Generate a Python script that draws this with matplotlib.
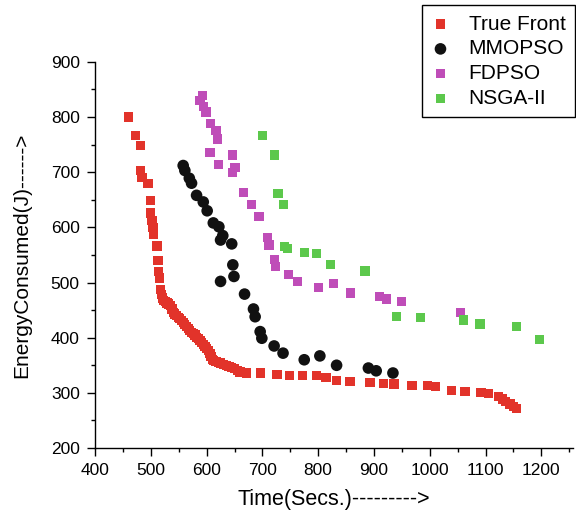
import matplotlib
matplotlib.use("Agg")
import matplotlib.pyplot as plt
from matplotlib.ticker import MultipleLocator

plt.rcParams['font.family'] = ['Liberation Sans', 'DejaVu Sans']

true_x = [460, 472, 481, 482, 484, 495, 499, 500, 502, 504, 505, 511, 513, 514, 516, 518, 519,
          521, 523, 526, 529, 532, 535, 538, 540, 543, 546, 549, 552, 555, 558, 561, 564, 567,
          570, 573, 576, 579, 582, 585, 588, 591, 594, 597, 600, 603, 606, 608, 610, 613, 617,
          621, 625, 630, 635, 640, 645, 650, 655, 660, 666, 672, 696, 726, 748, 772, 797, 814,
          833, 857, 893, 917, 936, 968, 996, 1011, 1039, 1063, 1092, 1106, 1123, 1130, 1136,
          1144, 1150, 1156]
true_y = [800, 767, 748, 703, 690, 680, 648, 626, 613, 599, 587, 566, 540, 520, 508, 487, 478,
          472, 468, 466, 463, 461, 458, 452, 446, 443, 440, 437, 435, 431, 428, 424, 420, 416,
          413, 410, 407, 405, 401, 398, 395, 391, 387, 384, 381, 377, 372, 366, 361, 358, 357,
          355, 354, 352, 350, 348, 346, 344, 341, 338, 337, 336, 336, 334, 332, 331, 331, 328,
          322, 320, 319, 317, 316, 314, 313, 311, 305, 302, 301, 299, 294, 289, 285,
          280, 276, 272]

mmopso_x = [558, 561, 569, 573, 582, 594, 601, 612, 622, 629, 625, 645, 647, 649, 625, 668,
            684, 687, 696, 699, 721, 737, 775, 803, 833, 890, 904, 934]
mmopso_y = [712, 703, 689, 680, 658, 646, 630, 608, 601, 585, 577, 570, 532, 511, 502, 479,
            452, 438, 411, 399, 385, 372, 360, 367, 350, 345, 340, 336]

fdpso_x = [588, 593, 594, 599, 607, 617, 620, 606, 621, 647, 651, 646, 666, 681, 694, 709,
           712, 721, 723, 747, 763, 800, 828, 858, 910, 922, 950, 1055]
fdpso_y = [830, 839, 819, 809, 788, 776, 760, 736, 714, 731, 709, 700, 663, 641, 620, 582,
           568, 541, 529, 514, 502, 491, 498, 481, 474, 470, 465, 446]

nsga_x = [700, 722, 728, 738, 739, 745, 776, 797, 822, 884, 941, 984, 1060, 1090, 1155, 1197]
nsga_y = [766, 731, 661, 641, 565, 561, 554, 553, 532, 521, 439, 436, 432, 425, 420, 397]

fig = plt.figure(figsize=(5.76, 5.15), dpi=100)
ax = fig.add_axes([0.165, 0.130, 0.830, 0.750])

ax.scatter(true_x, true_y, marker='s', s=44, color='#e2332a', edgecolors='none', label='True Front', zorder=3)
ax.scatter(mmopso_x, mmopso_y, marker='o', s=70, color='#111111', edgecolors='none', label='MMOPSO', zorder=3)
ax.scatter(fdpso_x, fdpso_y, marker='s', s=44, color='#bf4db8', edgecolors='none', label='FDPSO', zorder=3)
ax.scatter(nsga_x, nsga_y, marker='s', s=44, color='#5cc84c', edgecolors='none', label='NSGA-II', zorder=3)

ax.set_xlim(400, 1257)
ax.set_ylim(200, 900)
ax.xaxis.set_major_locator(MultipleLocator(100))
ax.xaxis.set_minor_locator(MultipleLocator(50))
ax.yaxis.set_major_locator(MultipleLocator(100))
ax.yaxis.set_minor_locator(MultipleLocator(50))
ax.tick_params(which='major', direction='out', length=6, width=1, labelsize=12.5, pad=5, colors='black')
ax.tick_params(which='minor', direction='out', length=3, width=1)
ax.spines['top'].set_visible(False)
ax.spines['right'].set_visible(False)
for s in ('left', 'bottom'):
    ax.spines[s].set_linewidth(1)

ax.set_xlabel('Time(Secs.)--------->', fontsize=15.5, labelpad=8)
ax.set_ylabel('EnergyConsumed(J)------>', fontsize=15, labelpad=14)

leg = fig.legend(loc='upper right', bbox_to_anchor=(0.998, 0.99), fontsize=15,
                 frameon=True, fancybox=False, edgecolor='black', framealpha=1,
                 handletextpad=0.9, borderpad=0.45, labelspacing=0.28, markerscale=1.0,
                 handlelength=0.9, borderaxespad=0)
leg.get_frame().set_linewidth(1)

fig.savefig('out.png', dpi=100)
